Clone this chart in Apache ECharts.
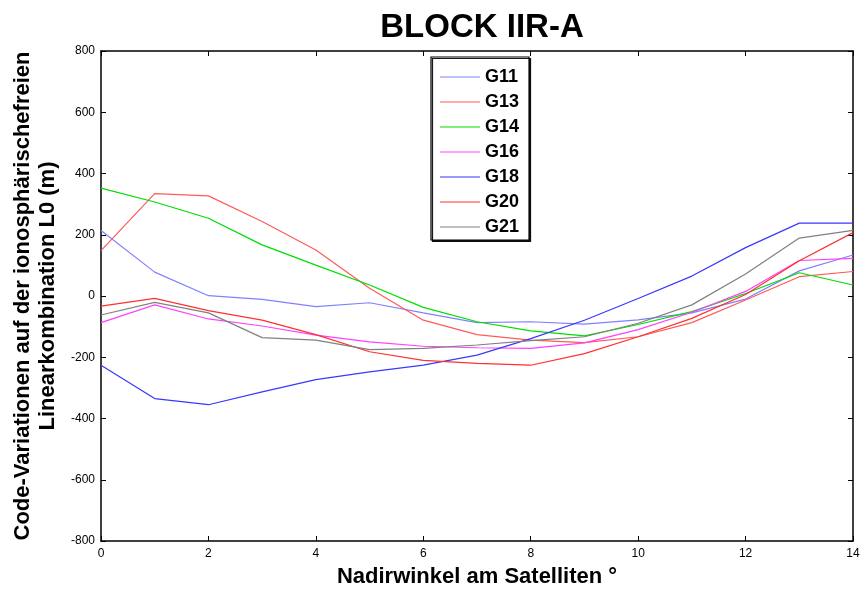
<!DOCTYPE html>
<html><head><meta charset="utf-8">
<script src="https://cdn.jsdelivr.net/npm/echarts@6/dist/echarts.min.js"></script>
<style>html,body{margin:0;padding:0;background:#fff}#c{width:861px;height:590px}</style>
</head><body><div id="c"></div>
<script>
const xValues = [0,1,2,3,4,5,6,7,8,9,10,11,12,13,14];
const G11 = [214, 78, 1, -11, -35, -22, -55, -87, -84, -92, -78, -55, -10, 82, 134];
const G13 = [148, 334, 327, 243, 150, 25, -79, -126, -144, -152, -133, -87, -13, 63, 80];
const G14 = [352, 307, 254, 167, 101, 36, -37, -84, -114, -130, -93, -51, 8, 76, 36];
const G16 = [-87, -29, -75, -98, -128, -150, -164, -169, -171, -153, -110, -53, 15, 116, 123];
const G18 = [-226, -335, -355, -313, -273, -248, -226, -193, -139, -79, -8, 65, 158, 238, 238];
const G20 = [-33, -8, -48, -79, -126, -182, -210, -220, -226, -188, -133, -73, 5, 115, 207];
const G21 = [-62, -21, -55, -136, -144, -175, -171, -160, -146, -133, -89, -29, 72, 189, 214];
const yTicks = [-800, -600, -400, -200, 0, 200, 400, 600, 800];

const seriesDefs = [
  ['G11', G11, '#8080ff'],
  ['G13', G13, '#ff5a5a'],
  ['G14', G14, '#00dd00'],
  ['G16', G16, '#ff40ff'],
  ['G18', G18, '#3838ff'],
  ['G20', G20, '#ff3030'],
  ['G21', G21, '#808080']
];

const font = 'Liberation Sans, Arial, sans-serif';
const chart = echarts.init(document.getElementById('c'));
const axisLine = {show: true, onZero: false, lineStyle: {color: '#000', width: 1.5}};
chart.setOption({
  animation: false,
  backgroundColor: '#fff',
  title: {text: 'BLOCK IIR-A', left: 477, top: 6, textAlign: 'center',
    textStyle: {fontFamily: font, fontWeight: 'bold', fontSize: 33, color: '#000'}},
  grid: {left: 101, right: 8, top: 51, bottom: 49, containLabel: false, outerBoundsMode: 'none'},
  legend: {
    orient: 'vertical', left: 431, top: 57,
    padding: [11, 10, 4, 9],
    icon: 'rect',
    itemWidth: 40, itemHeight: 1.2, itemGap: 7,
    backgroundColor: '#fff', borderColor: '#000', borderWidth: 1.2,
    shadowColor: 'rgba(0,0,0,0.9)', shadowOffsetX: 1.5, shadowOffsetY: 1.5,
    textStyle: {fontFamily: font, fontWeight: 'bold', fontSize: 18, color: '#000'},
    data: seriesDefs.map(d => d[0])
  },
  xAxis: [{
    type: 'value', min: 0, max: 14, interval: 2,
    axisLine: axisLine,
    axisTick: {show: true, inside: true, length: 5, lineStyle: {color: '#000'}},
    axisLabel: {fontFamily: font, fontSize: 12, color: '#000', margin: 7},
    splitLine: {show: false},
    name: 'Nadirwinkel am Satelliten °', nameLocation: 'middle', nameGap: 25,
    nameTextStyle: {fontFamily: font, fontWeight: 'bold', fontSize: 22, color: '#000'}
  }, {
    type: 'value', position: 'top', min: 0, max: 14, interval: 2,
    axisLine: axisLine,
    axisTick: {show: true, inside: true, length: 5, lineStyle: {color: '#000'}},
    axisLabel: {show: false}, splitLine: {show: false}
  }],
  yAxis: [{
    type: 'value', min: -800, max: 800, interval: 200,
    axisLine: axisLine,
    axisTick: {show: true, inside: true, length: 5, lineStyle: {color: '#000'}},
    axisLabel: {fontFamily: font, fontSize: 12, color: '#000', margin: 6,
      formatter: v => yTicks.includes(v) ? String(v) : ''},
    splitLine: {show: false},
    name: 'Code-Variationen auf der ionosphärischefreien\nLinearkombination L0 (m)',
    nameLocation: 'middle', nameGap: 41,
    nameTextStyle: {fontFamily: font, fontWeight: 'bold', fontSize: 22, color: '#000', lineHeight: 25}
  }, {
    type: 'value', position: 'right', min: -800, max: 800, interval: 200,
    axisLine: axisLine,
    axisTick: {show: true, inside: true, length: 5, lineStyle: {color: '#000'}},
    axisLabel: {show: false}, splitLine: {show: false}
  }],
  series: seriesDefs.map(d => ({
    name: d[0], type: 'line', xAxisIndex: 0, yAxisIndex: 0,
    data: xValues.map((x, i) => [x, d[1][i]]),
    symbol: 'none', showSymbol: false,
    lineStyle: {color: d[2], width: 1.2}, itemStyle: {color: d[2]}
  }))
});
</script>
</body></html>
